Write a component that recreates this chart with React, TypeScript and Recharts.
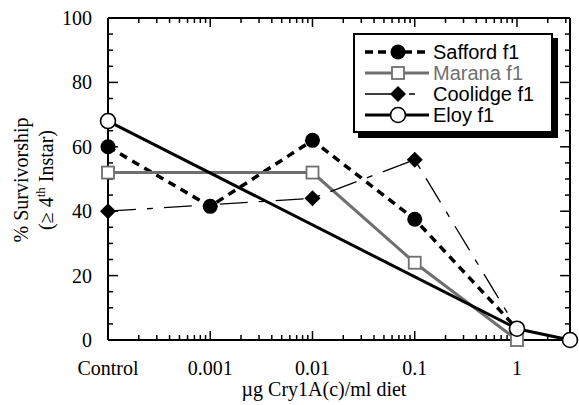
import { LineChart, Line, XAxis, YAxis, Legend, ReferenceLine } from 'recharts'

// dose (µg/ml); control is plotted at 0.0001 on the log axis
const doses = [0.0001, 0.001, 0.01, 0.1, 1, 3.3]
const safford = [60, 41.5, 62, 37.5, 3.5, null]
const marana = [52, null, 52, 24, 0, null]
const coolidge = [40, null, 44, 56, 3.5, null]
const eloy = [68, null, null, null, 3.5, 0]

const doseTicks = [
  0.0001, 0.0002, 0.0003, 0.0004, 0.0005, 0.0006, 0.0007, 0.0008, 0.0009,
  0.001, 0.002, 0.003, 0.004, 0.005, 0.006, 0.007, 0.008, 0.009,
  0.01, 0.02, 0.03, 0.04, 0.05, 0.06, 0.07, 0.08, 0.09,
  0.1, 0.2, 0.3, 0.4, 0.5, 0.6, 0.7, 0.8, 0.9,
  1, 2, 3,
]
const majorDoses = [0.0001, 0.001, 0.01, 0.1, 1]
const majorLabels = ['Control', '0.001', '0.01', '0.1', '1']

const survTicks = [0, 5, 10, 15, 20, 25, 30, 35, 40, 45, 50, 55, 60, 65, 70, 75, 80, 85, 90, 95, 100]
const survLabels = [0, 20, 40, 60, 80, 100]

const X_MIN = 0.0001
const X_MAX = 3.3

const data = doses.map((d, i) => ({
  dose: d,
  safford: safford[i],
  marana: marana[i],
  coolidge: coolidge[i],
  eloy: eloy[i],
}))

const GRAY = '#6f6f6f'
const SERIF = 'Liberation Serif'
const SANS = 'Liberation Sans'

const series = [
  { key: 'safford', name: 'Safford f1', color: '#000', width: 3.5, dash: '8 6', legendDash: '8 5', marker: 'disc' },
  { key: 'marana', name: 'Marana f1', color: GRAY, width: 3, dash: undefined, legendDash: undefined, marker: 'square' },
  { key: 'coolidge', name: 'Coolidge f1', color: '#000', width: 1.3, dash: '28 11 6 11', legendDash: '36 8 6 20', marker: 'diamond' },
  { key: 'eloy', name: 'Eloy f1', color: '#000', width: 3, dash: undefined, legendDash: undefined, marker: 'ring' },
]

// inward tick lengths, in axis units (about 9px / 5px on this plot)
const vMajor = 2.8
const vMinor = 1.55
const hMajor = 1.25
const hMinor = 1.12

function majorIndex(v: number) {
  return majorDoses.findIndex(m => Math.abs(m - v) < m * 1e-6)
}

function Marker({ kind, cx, cy }: { kind: string; cx: number; cy: number }) {
  if (kind === 'disc') return <circle cx={cx} cy={cy} r={7.5} fill="#000" />
  if (kind === 'ring') return <circle cx={cx} cy={cy} r={7.5} fill="#fff" stroke="#000" strokeWidth={1.6} />
  if (kind === 'square')
    return <rect x={cx - 6} y={cy - 6} width={12} height={12} fill="#fff" stroke={GRAY} strokeWidth={1.8} />
  return <path d={`M${cx},${cy - 8}L${cx + 8},${cy}L${cx},${cy + 8}L${cx - 8},${cy}Z`} fill="#000" />
}

function SeriesDot(props: any) {
  const { cx, cy, value, kind } = props
  if (value == null || cx == null || cy == null) return null
  return <Marker kind={kind} cx={cx} cy={cy} />
}

function BottomTick(props: any) {
  const { x, y, payload } = props
  const idx = majorIndex(payload.value)
  if (idx < 0) return <g />
  return (
    <text x={x} y={y + 35} textAnchor="middle" fontFamily={SERIF} fontSize={20} fill="#000">
      {majorLabels[idx]}
    </text>
  )
}

function LeftTick(props: any) {
  const { x, y, payload } = props
  if (!survLabels.includes(payload.value)) return <g />
  return (
    <text x={x - 16} y={y + 7} textAnchor="end" fontFamily={SERIF} fontSize={20} fill="#000">
      {payload.value}
    </text>
  )
}

function LegendBox() {
  return (
    <div
      style={{
        width: 196,
        height: 96,
        border: '2px solid #000',
        background: '#fff',
        boxShadow: '5px 5px 0 #000',
      }}
    >
      <svg width={196} height={96} style={{ display: 'block' }}>
        {series.map((s, i) => {
          const cy = 17 + i * 21
          return (
            <g key={s.key}>
              <line x1={10} y1={cy} x2={74} y2={cy} stroke={s.color} strokeWidth={s.width} strokeDasharray={s.legendDash} />
              <Marker kind={s.marker} cx={43} cy={cy} />
              <text x={78} y={cy + 7} fontFamily={SANS} fontSize={20} fill={s.key === 'marana' ? GRAY : '#000'}>
                {s.name}
              </text>
            </g>
          )
        })}
      </svg>
    </div>
  )
}

function YTitle() {
  return (
    <g>
      <text x={28} y={180} transform="rotate(-90 28 180)" textAnchor="middle" fontFamily={SERIF} fontSize={20} fill="#000">
        % Survivorship
      </text>
      <text x={53} y={180} transform="rotate(-90 53 180)" textAnchor="middle" fontFamily={SERIF} fontSize={20} fill="#000">
        (≥ 4<tspan fontSize={13} dy={-8}>th</tspan>
        <tspan dy={8}> Instar)</tspan>
      </text>
    </g>
  )
}

function XTitle() {
  return (
    <text x={324} y={396} textAnchor="middle" fontFamily={SERIF} fontSize={20} fill="#000">
      µg Cry1A(c)/ml diet
    </text>
  )
}

export default function App() {
  return (
    <div style={{ position: 'absolute', left: 0, top: 0, width: 579, height: 405, background: '#fff' }}>
      <LineChart width={579} height={405} data={data} margin={{ top: 17, right: 8, left: 78, bottom: 35 }}>
        <XAxis
          dataKey="dose"
          type="number"
          scale="log"
          domain={[X_MIN, X_MAX]}
          ticks={doseTicks}
          interval={0}
          height={30}
          tickSize={0}
          tickMargin={0}
          tickLine={false}
          axisLine={{ stroke: '#000', strokeWidth: 2 }}
          tick={BottomTick}
          label={{ content: () => <XTitle /> }}
        />
        <XAxis
          xAxisId="top"
          orientation="top"
          dataKey="dose"
          type="number"
          scale="log"
          domain={[X_MIN, X_MAX]}
          height={1}
          tick={false}
          tickLine={false}
          axisLine={{ stroke: '#000', strokeWidth: 2 }}
        />
        <YAxis
          yAxisId="left"
          type="number"
          domain={[0, 100]}
          ticks={survTicks}
          interval={0}
          width={30}
          tickSize={0}
          tickMargin={0}
          tickLine={false}
          axisLine={{ stroke: '#000', strokeWidth: 2 }}
          tick={LeftTick}
          label={{ content: () => <YTitle /> }}
        />
        <YAxis
          yAxisId="right"
          orientation="right"
          type="number"
          domain={[0, 100]}
          width={1}
          tick={false}
          tickLine={false}
          axisLine={{ stroke: '#000', strokeWidth: 2 }}
        />
        {doseTicks.map(v => {
          const len = majorIndex(v) >= 0 ? vMajor : vMinor
          return [
            <ReferenceLine
              key={`b${v}`}
              yAxisId="left"
              segment={[{ x: v, y: 0 }, { x: v, y: len }]}
              stroke="#000"
              strokeWidth={1.5}
              ifOverflow="visible"
            />,
            <ReferenceLine
              key={`t${v}`}
              yAxisId="left"
              segment={[{ x: v, y: 100 }, { x: v, y: 100 - len }]}
              stroke="#000"
              strokeWidth={1.5}
              ifOverflow="visible"
            />,
          ]
        })}
        {survTicks.map(v => {
          const f = survLabels.includes(v) ? hMajor : hMinor
          return [
            <ReferenceLine
              key={`l${v}`}
              yAxisId="left"
              segment={[{ x: X_MIN, y: v }, { x: X_MIN * f, y: v }]}
              stroke="#000"
              strokeWidth={1.5}
              ifOverflow="visible"
            />,
            <ReferenceLine
              key={`r${v}`}
              yAxisId="left"
              segment={[{ x: X_MAX, y: v }, { x: X_MAX / f, y: v }]}
              stroke="#000"
              strokeWidth={1.5}
              ifOverflow="visible"
            />,
          ]
        })}
        <Legend
          verticalAlign="middle"
          align="center"
          content={() => <LegendBox />}
          wrapperStyle={{ top: 33, left: 353, right: 'auto', bottom: 'auto', width: 200, height: 100 }}
        />
        {series.map(s => (
          <Line
            key={s.key}
            yAxisId="left"
            dataKey={s.key}
            name={s.name}
            type="linear"
            stroke={s.color}
            strokeWidth={s.width}
            strokeDasharray={s.dash}
            connectNulls
            dot={<SeriesDot kind={s.marker} />}
            activeDot={false}
            isAnimationActive={false}
          />
        ))}
      </LineChart>
    </div>
  )
}
